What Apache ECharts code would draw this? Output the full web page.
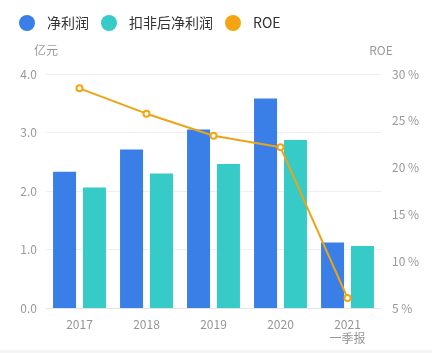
<!DOCTYPE html>
<html><head><meta charset="utf-8">
<script src="https://cdn.jsdelivr.net/npm/echarts@6/dist/echarts.min.js"></script>
<style>html,body{margin:0;padding:0;background:#fff}#c{width:432px;height:353px}</style>
</head><body><div id="c"></div>
<script>
const categories = ['2017', '2018', '2019', '2020', '2021\n一季报'];
const netProfit = [2.33, 2.71, 3.05, 3.58, 1.12];
const netProfitDeducted = [2.06, 2.30, 2.46, 2.87, 1.06];
const roe = [28.47, 25.76, 23.41, 22.17, 6.07];
const leftTicks = { min: 0, max: 4, interval: 1 };
const rightTicks = { min: 5, max: 30, interval: 5 };

const chart = echarts.init(document.getElementById('c'), null, { renderer: 'canvas' });
const font = '"Noto Sans CJK SC", "Noto Sans", sans-serif';
chart.setOption({
  animation: false,
  textStyle: { fontFamily: font },
  legend: {
    left: 14, top: 10, icon: 'circle', itemWidth: 16, itemHeight: 16, itemGap: 12,
    textStyle: { fontSize: 14, color: '#333', padding: [0, 0, 0, 7], fontFamily: font },
    data: ['净利润', '扣非后净利润', 'ROE']
  },
  grid: { left: 46, right: 51, top: 74, bottom: 45 },
  xAxis: {
    type: 'category', data: categories,
    axisLine: { lineStyle: { color: '#e6e6e6' } },
    axisTick: { show: false },
    axisLabel: { color: '#959595', fontSize: 12, margin: 9, lineHeight: 14, fontFamily: font }
  },
  yAxis: [
    {
      type: 'value', name: '亿元', nameGap: 18,
      nameTextStyle: { color: '#999', fontSize: 12, fontFamily: font },
      min: leftTicks.min, max: leftTicks.max, interval: leftTicks.interval,
      axisLine: { show: false }, axisTick: { show: false },
      axisLabel: { color: '#999', fontSize: 12, margin: 9, formatter: v => v.toFixed(1) },
      splitLine: { lineStyle: { color: '#eeeeee' } }
    },
    {
      type: 'value', name: 'ROE', nameGap: 18,
      nameTextStyle: { color: '#999', fontSize: 12, fontFamily: font },
      min: rightTicks.min, max: rightTicks.max, interval: rightTicks.interval,
      axisLine: { show: false }, axisTick: { show: false },
      axisLabel: { color: '#999', fontSize: 12, margin: 11, formatter: '{value} %' },
      splitLine: { show: false }
    }
  ],
  series: [
    { name: '净利润', type: 'bar', data: netProfit, barWidth: 23, barGap: '30%',
      itemStyle: { color: '#3a7ee8' } },
    { name: '扣非后净利润', type: 'bar', data: netProfitDeducted, barWidth: 23,
      itemStyle: { color: '#36cbc6' } },
    { name: 'ROE', type: 'line', yAxisIndex: 1, data: roe,
      symbol: 'emptyCircle', symbolSize: 6,
      lineStyle: { color: '#eaa516', width: 2 },
      itemStyle: { color: '#f5a512', borderColor: '#eaa516' } }
  ],
  graphic: [
    { type: 'rect', left: 0, top: 350, shape: { width: 432, height: 3 }, style: { fill: '#f5f5f5' } }
  ]
});
</script></body></html>
